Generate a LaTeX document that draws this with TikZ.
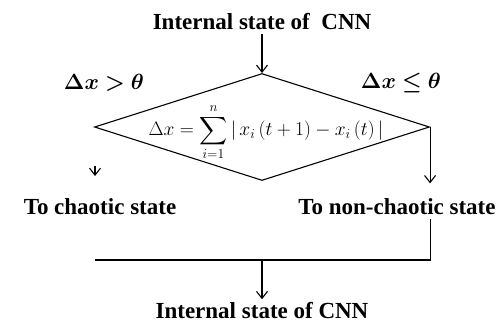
\documentclass[tikz,border=0pt]{standalone}
\usepackage{amsmath}
\usepackage{amssymb}
\usepackage{bm}
\usepackage{fix-cm}
\usepackage{fontspec}
\setmainfont{Liberation Serif}
\usepackage{tikz}
\usetikzlibrary{shapes.geometric, positioning, arrows.meta}
\tikzset{
  every picture/.style={x=1pt, y=-1pt, line width=1.1pt},
  txt/.style={font=\bfseries\fontsize{23}{27}\selectfont, inner sep=3pt},
  cond/.style={font=\fontsize{22}{26}\selectfont, inner sep=0pt},
  decision/.style={
    draw, diamond, aspect=3.1, inner sep=0pt,
    minimum width=335pt, minimum height=107pt
  },
  formula/.style={font=\fontsize{19.5}{23}\selectfont, inner sep=0pt},
  arr/.style={-{Straight Barb[length=7pt, width=11pt]}},
}

\begin{document}
\begin{tikzpicture}
  \useasboundingbox (0,0) rectangle (503,325);

  \node[txt] (top) at (262,22) {Internal state of \ CNN};
  \node[decision] (dec) at (262,127) {};
  \node[formula] (sum) at (266,132)
    {$\Delta x = \displaystyle\sum_{i=1}^{n} |\, x_i\,(t+1) - x_i\,(t)\, |$};

  \node[cond] (gt) at (104,83) {$\bm{\Delta x > \theta}$};
  \node[cond] (le) at (401,83) {$\bm{\Delta x \le \theta}$};

  \node[txt] (chaos)    at (100,207) {To chaotic state};
  \node[txt] (nonchaos) at (397,207) {To non-chaotic state};
  \node[txt] (bottom)   at (262,311) {Internal state of CNN};

  \coordinate (tipL) at (95,166);
  \coordinate (tipLend) at (95,176);
  \coordinate (joinL) at (95,260);

  \draw[arr] (top) -- (dec.north);
  \draw[arr] (tipL) -- (tipLend);
  \draw[arr, shorten >=12pt] (dec.east) -- (dec.east |- nonchaos.north);
  \draw (nonchaos.south -| dec.east) |- (joinL);
  \draw[arr] (joinL -| dec.north) -- (bottom);
\end{tikzpicture}
\end{document}
